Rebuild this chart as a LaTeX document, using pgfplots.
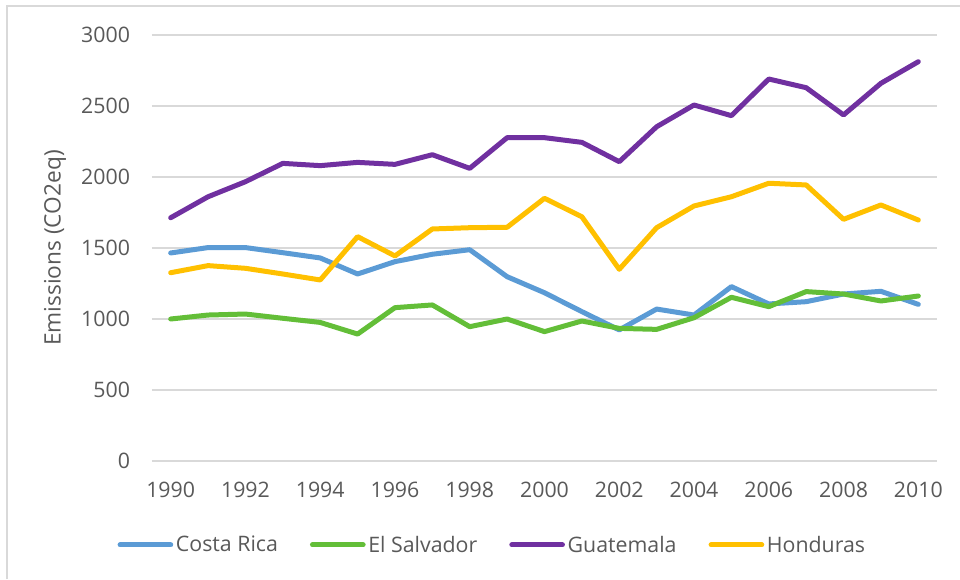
\documentclass[border=0pt]{standalone}
\usepackage{pgfplots}
\pgfplotsset{compat=1.18}
\usepackage{pgfplotstable}
\usepackage{fontspec}
\setmainfont{Open Sans}
\definecolor{cr}{HTML}{5B9BD5}
\definecolor{es}{HTML}{63BE38}
\definecolor{gt}{HTML}{7030A0}
\definecolor{hn}{HTML}{FFC000}
\definecolor{txt}{HTML}{595959}
\definecolor{grd}{HTML}{D9D9D9}
\pgfplotstableread{
year cr es gt hn
1990 1465 1000 1713 1326
1991 1503 1028 1861 1376
1992 1503 1035 1967 1357
1993 1467 1005 2096 1317
1994 1430 976 2080 1275
1995 1317 894 2103 1580
1996 1404 1080 2089 1444
1997 1456 1099 2157 1634
1998 1488 946 2061 1643
1999 1298 1000 2277 1646
2000 1185 911 2277 1850
2001 1052 986 2244 1720
2002 923 934 2108 1350
2003 1070 927 2354 1643
2004 1028 1009 2507 1796
2005 1228 1153 2432 1861
2006 1106 1087 2690 1956
2007 1122 1193 2629 1944
2008 1176 1176 2437 1702
2009 1195 1127 2660 1803
2010 1103 1162 2812 1697
}\datatable
\begin{document}
\begin{tikzpicture}[x=1pt,y=1pt]
\begin{axis}[
  at={(0,0)}, anchor=south west,
  scale only axis,
  width=588.75pt, height=319.5pt,
  xmin=1989.5, xmax=2010.5,
  ymin=0, ymax=3000,
  xtick={1990,1992,...,2010},
  ytick={0,500,...,3000},
  /pgf/number format/1000 sep={},
  /pgf/number format/assume math mode=true,
  tick label style={font=\fontsize{16}{19}\selectfont, text=txt},
  xticklabel style={yshift=-12pt},
  yticklabel style={xshift=-13pt},
  major tick length=0pt,
  axis line style={draw=none},
  ymajorgrids,
  grid style={grd, line width=1pt},
  ylabel={Emissions (CO2eq)},
  ylabel style={font=\fontsize{17}{20}\selectfont, text=txt, at={(axis description cs:-0.1236,0.5)}, anchor=center},
  legend style={at={(0.434,-0.197)}, anchor=center, draw=none, fill=none,
    legend columns=-1, font=\fontsize{16}{19}\selectfont, text=txt,
    /tikz/every odd column/.append style={column sep=0pt},
    /tikz/every even column/.append style={column sep=22pt},
    inner sep=0pt},
  legend image code/.code={\draw[#1, line width=3.75pt, line cap=round] (0pt,0pt) -- (38pt,0pt);},
  every axis plot/.append style={line width=3.75pt, line join=round, line cap=round, mark=none},
]
\addplot[cr] table[x=year,y=cr]{\datatable};
\addlegendentry{Costa Rica}
\addplot[es] table[x=year,y=es]{\datatable};
\addlegendentry{El Salvador}
\addplot[gt] table[x=year,y=gt]{\datatable};
\addlegendentry{Guatemala}
\addplot[hn] table[x=year,y=hn]{\datatable};
\addlegendentry{Honduras}
\end{axis}
\draw[grd, line width=1.5pt] (-108.75pt,-88.5pt) -- (-108.75pt,341.25pt) -- (606pt,341.25pt);
\pgfresetboundingbox
\useasboundingbox (-114pt,-88.5pt) rectangle (606pt,345.75pt);
\end{tikzpicture}
\end{document}
